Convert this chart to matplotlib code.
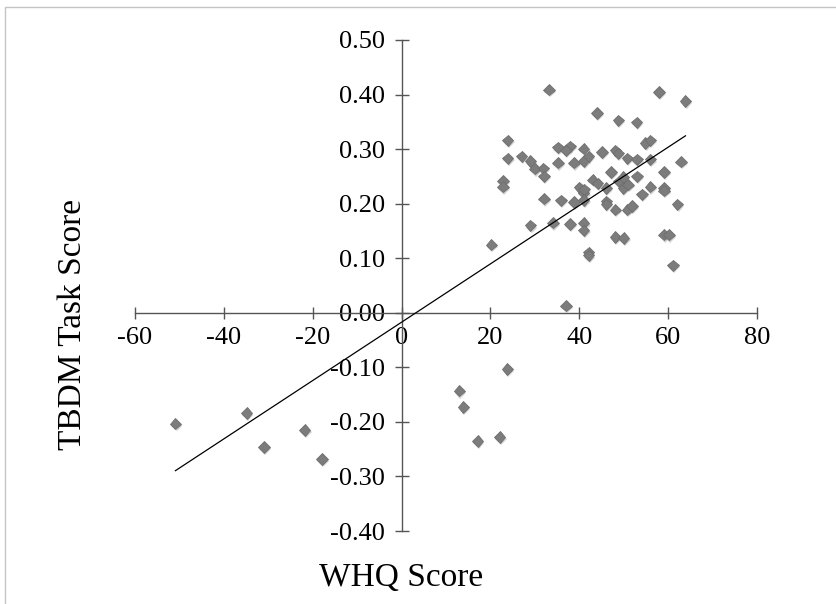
import numpy as np
import matplotlib
matplotlib.use("Agg")
import matplotlib.pyplot as plt
import matplotlib.patheffects as pe
from matplotlib.patches import Rectangle
from matplotlib.ticker import FormatStrFormatter

# WHQ score vs TBDM task score, one point per participant
whq = [
    -50.9, -34.9, -31.0, -21.8, -17.9,
    13.0, 13.9, 17.1, 22.1, 23.8,
    33.2, 57.9, 63.9, 44.0, 48.8, 52.9, 23.9, 54.9, 56.0, 35.2,
    37.9, 37.0, 41.0, 45.1, 48.1, 48.8, 23.9, 27.0, 29.0, 30.0,
    31.9, 32.1, 35.2, 38.8, 41.0, 42.1, 50.8, 53.0, 56.0, 62.9,
    22.8, 22.8, 47.1, 43.0, 44.1, 46.1, 40.0, 41.0, 41.1, 48.9,
    49.9, 49.9, 51.0, 53.0, 59.1, 56.0, 59.1, 59.1, 54.1, 32.1,
    35.9, 38.8, 41.0, 46.1, 46.1, 48.1, 50.8, 51.9, 62.1, 29.0,
    34.1, 37.9, 41.0, 41.0, 48.1, 50.0, 59.1, 60.2, 20.2, 42.1,
    42.1, 61.1, 37.0,
]
tbdm = [
    -0.203, -0.184, -0.246, -0.215, -0.268,
    -0.143, -0.173, -0.235, -0.228, -0.103,
    0.409, 0.405, 0.388, 0.366, 0.353, 0.349, 0.316, 0.311, 0.316, 0.303,
    0.305, 0.298, 0.301, 0.295, 0.298, 0.292, 0.283, 0.287, 0.278, 0.264,
    0.265, 0.250, 0.275, 0.275, 0.278, 0.287, 0.283, 0.281, 0.281, 0.277,
    0.242, 0.231, 0.258, 0.244, 0.237, 0.229, 0.230, 0.220, 0.226, 0.241,
    0.249, 0.229, 0.235, 0.250, 0.258, 0.231, 0.229, 0.224, 0.217, 0.209,
    0.206, 0.203, 0.207, 0.204, 0.199, 0.189, 0.189, 0.196, 0.199, 0.160,
    0.165, 0.163, 0.165, 0.151, 0.139, 0.137, 0.143, 0.143, 0.125, 0.111,
    0.105, 0.087, 0.013,
]

x_ticks = [-60, -40, -20, 0, 20, 40, 60, 80]
y_ticks = [-0.40, -0.30, -0.20, -0.10, 0.00, 0.10, 0.20, 0.30, 0.40, 0.50]

plt.rcParams["font.family"] = ["Liberation Serif", "DejaVu Serif"]
plt.rcParams["axes.unicode_minus"] = False

W, H = 836, 604
fig = plt.figure(figsize=(W / 100, H / 100), dpi=100)
ax = fig.add_axes([135 / W, 1 - 531 / H, (757 - 135) / W, (531 - 40) / H])

# thin grey frame around the chart area
fig.patches.append(Rectangle((5 / W, -0.1), 1.2, 1 - 7 / H + 0.1,
                             transform=fig.transFigure, fill=False,
                             edgecolor="#c4c4c4", linewidth=1.0))

x = np.array(whq)
y = np.array(tbdm)
ax.plot(x, y, linestyle="none", marker="D", markersize=5.8,
        markerfacecolor="#7c7c7c", markeredgecolor="#6e6e6e",
        markeredgewidth=0.6, zorder=3,
        path_effects=[pe.SimplePatchShadow(offset=(0.8, -1.5),
                                           shadow_rgbFace="#9a9a9a", alpha=0.45),
                      pe.Normal()])

# linear trend line
slope, intercept = np.polyfit(x, y, 1)
xs = np.array([x.min(), x.max()])
ax.plot(xs, slope * xs + intercept, color="black", linewidth=0.9, zorder=4)

ax.set_xlim(-60, 80)
ax.set_ylim(-0.40, 0.50)
ax.set_xticks(x_ticks)
ax.set_yticks(y_ticks)
ax.yaxis.set_major_formatter(FormatStrFormatter("%.2f"))

for side in ("top", "right"):
    ax.spines[side].set_visible(False)
ax.spines["left"].set_position(("data", 0))
ax.spines["bottom"].set_position(("data", 0))
for side in ("left", "bottom"):
    ax.spines[side].set_color("#555555")
    ax.spines[side].set_linewidth(1.0)
ax.patch.set_alpha(0)

ax.tick_params(axis="both", direction="inout", color="#555555", width=1.0,
               labelsize=19, labelcolor="black")
ax.tick_params(axis="x", length=9, pad=6)
ax.tick_params(axis="y", length=10, pad=7)

fig.text(401 / W, 1 - 578 / H, "WHQ Score", fontsize=24, ha="center", va="center")
fig.text(73 / W, 1 - 325 / H, "TBDM Task Score", fontsize=24, rotation=90,
         ha="center", va="center")

fig.savefig("out.png", dpi=100)
